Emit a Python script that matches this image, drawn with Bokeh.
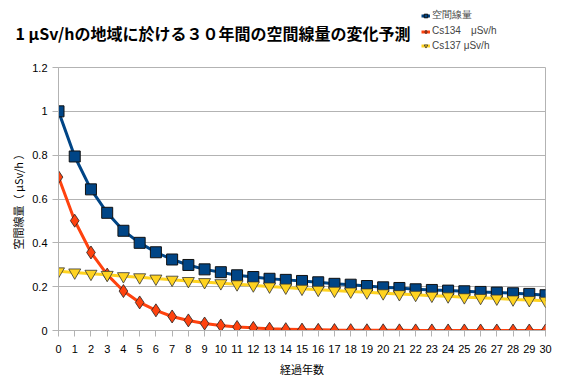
from bokeh.plotting import figure
from bokeh.layouts import column
from bokeh.models import Range1d, Legend, LegendItem, FixedTicker, ColumnDataSource
from bokeh.embed import file_html
from bokeh.resources import INLINE

years = list(range(0, 31))
total = [1.000, 0.794, 0.644, 0.537, 0.455, 0.400, 0.357, 0.324, 0.299, 0.279,
         0.266, 0.252, 0.244, 0.236, 0.231, 0.226, 0.220, 0.213, 0.209, 0.203,
         0.197, 0.194, 0.188, 0.185, 0.182, 0.179, 0.176, 0.173, 0.170, 0.167, 0.161]
cs134 = [0.700, 0.501, 0.356, 0.255, 0.180, 0.128, 0.092, 0.064, 0.046, 0.032,
         0.023, 0.016, 0.012, 0.008, 0.006, 0.004, 0.003, 0.002, 0.0015, 0.001,
         0.0008, 0.0006, 0.0004, 0.0003, 0.0002, 0.00015, 0.0001, 0.00008, 0.00006, 0.00004, 0.00003]
cs137 = [0.270, 0.265, 0.259, 0.254, 0.248, 0.243, 0.237, 0.232, 0.226, 0.221,
         0.216, 0.211, 0.206, 0.201, 0.196, 0.191, 0.186, 0.182, 0.178, 0.174,
         0.170, 0.166, 0.163, 0.159, 0.156, 0.152, 0.149, 0.146, 0.142, 0.139, 0.136]
y_ticks = [0, 0.2, 0.4, 0.6, 0.8, 1.0, 1.2]
y_tick_labels = ["0", "0.2", "0.4", "0.6", "0.8", "1", "1.2"]
series_names = ["空間線量", "Cs134　μSv/h", "Cs137 μSv/h"]
title_text = "1 μSv/hの地域に於ける３０年間の空間線量の変化予測"
x_label = "経過年数"
y_label = "空間線量（ μSv/h ）"

GRID = "#b3b3b3"
BLUE, ORANGE, YELLOW = "#004586", "#ff420e", "#ffd320"
W, H_TOP, H_MAIN = 581, 59, 330
TITLE_Y = 27          # header-strip position of the title (pixels from its bottom)

styles = [
    dict(color=BLUE, marker="square", size=11, outline="#111111", lw=1.0),
    dict(color=ORANGE, marker="diamond", size=13, outline="#222222", lw=0.8),
    dict(color=YELLOW, marker="inverted_triangle", size=12, outline="#333333", lw=0.8),
]
series = [total, cs134, cs137]

# ---- header strip: title + legend ----
top = figure(width=W, height=H_TOP, output_backend="svg", toolbar_location=None,
             x_range=Range1d(1000, 1000 + W), y_range=Range1d(0, H_TOP),
             x_axis_type=None,
             min_border_left=0, min_border_right=0, min_border_top=0, min_border_bottom=0)
top.outline_line_color = None
top.grid.grid_line_color = None
top.background_fill_color = "white"
top.border_fill_color = "white"

# title drawn as the strip's single (horizontal) axis label
ya = top.yaxis[0]
ya.ticker = FixedTicker(ticks=[TITLE_Y])
ya.major_label_overrides = {TITLE_Y: title_text}
ya.axis_line_color = None
ya.major_tick_line_color = None
ya.minor_tick_line_color = None
ya.major_tick_out = 0
ya.major_tick_in = 0
ya.major_label_standoff = -352
ya.major_label_text_font = "Noto Sans CJK JP"
ya.major_label_text_font_size = "16px"
ya.major_label_text_font_style = "bold"
ya.major_label_text_color = "black"

items = []
for name, vals, st in zip(series_names, series, styles):
    src = ColumnDataSource(dict(x=years, y=vals))   # lies outside the strip's range
    ln = top.line("x", "y", source=src, line_color=st["color"], line_width=3)
    mk = top.scatter("x", "y", source=src, marker=st["marker"], size=7, fill_color=st["color"],
                     line_color=st["outline"], line_width=st["lw"])
    items.append(LegendItem(label=name, renderers=[ln, mk]))
legend = Legend(items=items, location=(363, 8), orientation="vertical",
                glyph_width=9, glyph_height=9, label_height=10, spacing=2,
                padding=0, margin=0, label_standoff=2,
                label_text_font="Liberation Sans", label_text_font_size="10px",
                border_line_color=None, background_fill_alpha=0)
top.add_layout(legend, "center")

# ---- main chart ----
p = figure(width=W, height=H_MAIN, output_backend="svg", toolbar_location=None,
           x_range=Range1d(0, 30), y_range=Range1d(0, 1.2),
           min_border_left=58, min_border_right=36, min_border_top=8, min_border_bottom=59)
p.background_fill_color = "white"
p.border_fill_color = "white"
p.outline_line_color = GRID
p.outline_line_width = 1

p.xgrid.grid_line_color = None
p.ygrid.grid_line_color = GRID
p.ygrid.ticker = FixedTicker(ticks=y_ticks)

p.xaxis.ticker = FixedTicker(ticks=years)
p.yaxis.ticker = FixedTicker(ticks=y_ticks)
p.yaxis.major_label_overrides = {t: l for t, l in zip(y_ticks, y_tick_labels)}
for ax in (p.xaxis, p.yaxis):
    ax.axis_line_color = GRID
    ax.major_tick_line_color = GRID
    ax.major_tick_out = 6
    ax.major_tick_in = 0
    ax.minor_tick_line_color = None
    ax.major_label_text_font = "Liberation Sans"
    ax.major_label_text_font_size = "11px"
    ax.major_label_text_color = "black"
    ax.axis_label_text_font = "Noto Sans CJK JP"
    ax.axis_label_text_font_size = "11px"
    ax.axis_label_text_font_style = "normal"
    ax.axis_label_text_color = "black"
p.xaxis.major_label_standoff = 8
p.yaxis.major_label_standoff = 5
p.xaxis.axis_label = x_label
p.yaxis.axis_label = y_label
p.xaxis.axis_label_standoff = 5
p.yaxis.axis_label_standoff = 3

for vals, st in zip(series, styles):
    p.line(years, vals, line_color=st["color"], line_width=3)
    p.scatter(years, vals, marker=st["marker"], size=st["size"], fill_color=st["color"],
              line_color=st["outline"], line_width=st["lw"])

layout = column(top, p, spacing=0)
open("out.html", "w").write(file_html(layout, INLINE))
